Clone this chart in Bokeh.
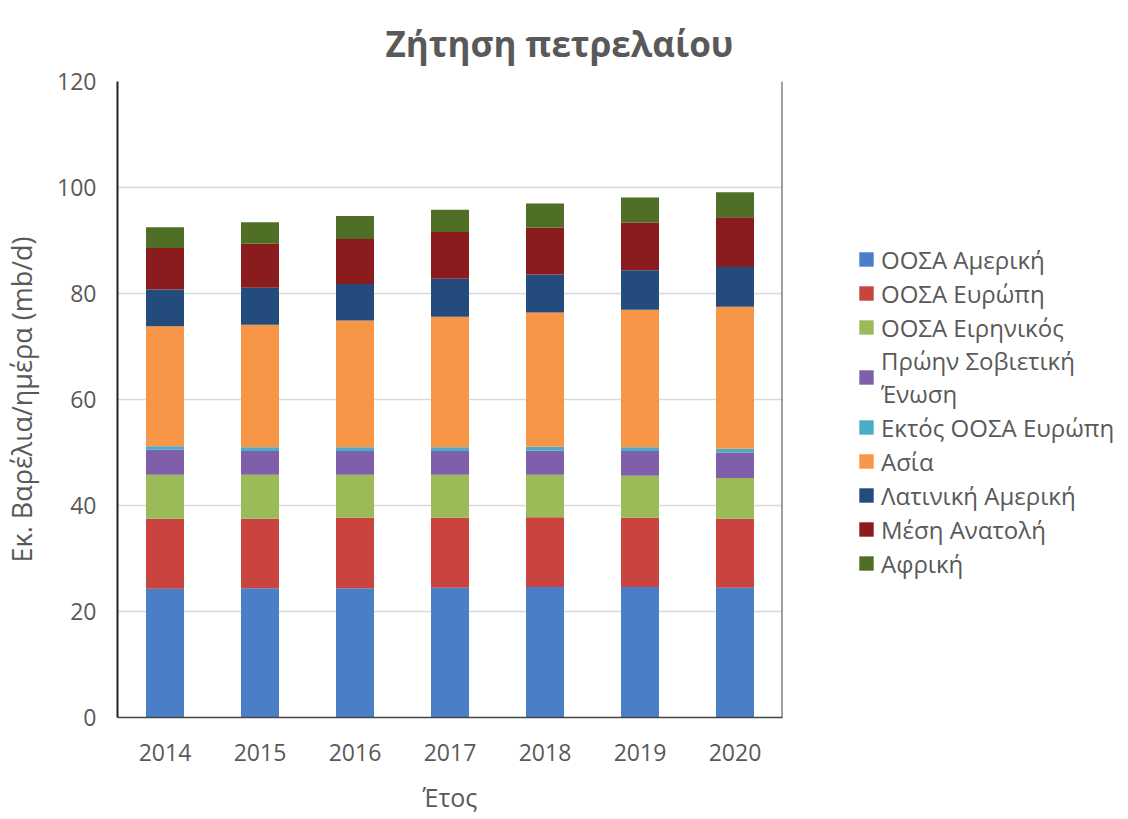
from bokeh.plotting import figure
from bokeh.models import Legend, LegendItem, Span, FactorRange, ColumnDataSource
from bokeh.embed import file_html
from bokeh.resources import INLINE

years = ["2014", "2015", "2016", "2017", "2018", "2019", "2020"]
series = ["ΟΟΣΑ Αμερική", "ΟΟΣΑ Ευρώπη", "ΟΟΣΑ Ειρηνικός", "Πρώην Σοβιετική\nΈνωση",
          "Εκτός ΟΟΣΑ Ευρώπη", "Ασία", "Λατινική Αμερική", "Μέση Ανατολή", "Αφρική"]
oecd_america = [24.3, 24.4, 24.4, 24.5, 24.6, 24.6, 24.5]
oecd_europe = [13.2, 13.1, 13.3, 13.2, 13.2, 13.1, 13.0]
oecd_pacific = [8.3, 8.3, 8.1, 8.1, 8.0, 7.9, 7.7]
former_ussr = [4.7, 4.5, 4.5, 4.5, 4.6, 4.7, 4.8]
non_oecd_europe = [0.7, 0.7, 0.7, 0.7, 0.7, 0.7, 0.7]
asia = [22.6, 23.1, 23.9, 24.6, 25.3, 25.95, 26.8]
latin_america = [6.95, 7.0, 6.9, 7.2, 7.2, 7.45, 7.5]
middle_east = [7.85, 8.3, 8.5, 8.8, 8.8, 9.0, 9.4]
africa = [3.9, 4.05, 4.3, 4.2, 4.6, 4.7, 4.7]

colors = ["#4A7EC6", "#C9433F", "#9BBB59", "#7F5FA9", "#4BACC6", "#F79646",
          "#234B7C", "#8A1C1E", "#4F6F26"]

keys = ["s%d" % i for i in range(9)]
data = dict(x=years)
for k, v in zip(keys, [oecd_america, oecd_europe, oecd_pacific, former_ussr, non_oecd_europe,
                       asia, latin_america, middle_east, africa]):
    data[k] = v
src = ColumnDataSource(data)

p = figure(x_range=FactorRange(*years), y_range=(0, 120),
           frame_width=665, frame_height=636,
           output_backend="svg", toolbar_location=None,
           min_border_left=110, min_border_right=325, min_border_top=81, min_border_bottom=89)

rs = p.vbar_stack(keys, x="x", width=0.4, color=colors, source=src, line_color=None)

p.title.text = "Ζήτηση πετρελαίου"
p.title.text_font = "Open Sans"
p.title.text_font_size = "35px"
p.title.text_font_style = "bold"
p.title.text_color = "#595959"
p.title.align = "left"
p.title.offset = 268
p.title.standoff = 30

p.outline_line_color = None
p.xgrid.grid_line_color = None
p.ygrid.grid_line_color = "#D9D9D9"
p.ygrid.grid_line_width = 1.5
p.yaxis.ticker = [0, 20, 40, 60, 80, 100, 120]

for ax in (p.xaxis, p.yaxis):
    ax.major_tick_line_color = None
    ax.minor_tick_line_color = None
    ax.major_label_text_font = "Open Sans"
    ax.major_label_text_font_size = "23px"
    ax.major_label_text_color = "#595959"
    ax.axis_label_text_font = "Open Sans"
    ax.axis_label_text_font_style = "normal"
    ax.axis_label_text_color = "#595959"

p.yaxis.axis_line_color = "#222222"
p.yaxis.axis_line_width = 2
p.xaxis.axis_line_color = "#444444"
p.xaxis.axis_line_width = 1.5
p.yaxis.major_label_standoff = 15
p.xaxis.major_label_standoff = 20
p.yaxis.axis_label = "Εκ. Βαρέλια/ημέρα (mb/d)"
p.yaxis.axis_label_text_font_size = "27px"
p.yaxis.axis_label_standoff = 14
p.xaxis.axis_label = "Έτος"
p.xaxis.axis_label_text_font_size = "25px"
p.xaxis.axis_label_standoff = 16

p.add_layout(Span(location=7, dimension="height", line_color="#444444", line_width=2))

items = [LegendItem(label=series[i], renderers=[rs[i]]) for i in range(9)]
legend = Legend(items=items, location=(75, 137), margin=0, padding=0,
                label_text_font="Open Sans", label_text_font_size="24px",
                label_text_color="#595959", label_text_line_height=1.4,
                glyph_width=18, glyph_height=18,
                label_height=34, spacing=0, label_standoff=6,
                border_line_color=None, background_fill_alpha=0)
p.add_layout(legend, "right")

open("out.html", "w").write(file_html(p, INLINE))
